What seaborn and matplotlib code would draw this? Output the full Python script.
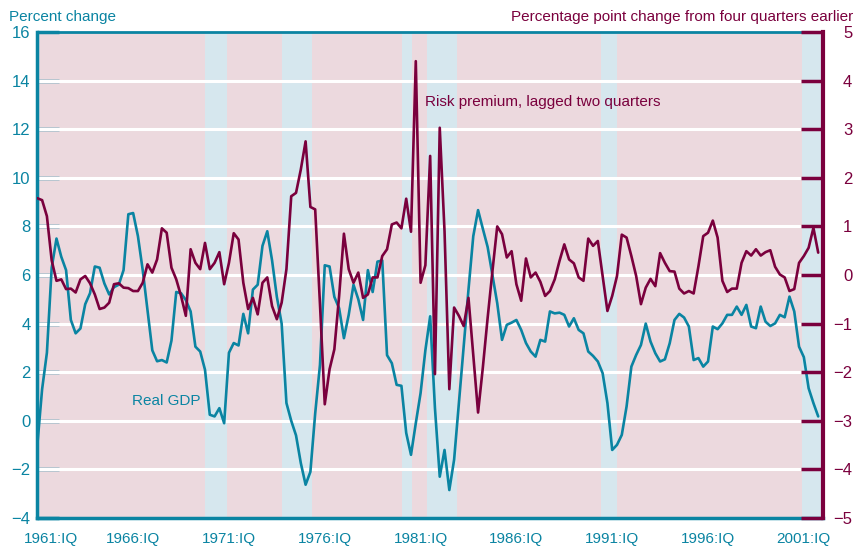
import matplotlib
matplotlib.use("Agg")
from matplotlib import pyplot as plt
from matplotlib import transforms
import seaborn as sns
import pandas as pd
import numpy as np

# quarterly, 1961:IQ .. 2001:IVQ
real_gdp = [
    -1.0, 1.3, 2.8, 6.3, 7.5, 6.75, 6.2, 4.15, 3.6, 3.8,
    4.8, 5.25, 6.35, 6.3, 5.65, 5.2, 5.5, 5.6, 6.2, 8.5,
    8.55, 7.6, 6.2, 4.55, 2.9, 2.45, 2.5, 2.4, 3.3, 5.3,
    5.25, 4.97, 4.5, 3.05, 2.85, 2.1, 0.25, 0.18, 0.52, -0.1,
    2.8, 3.2, 3.1, 4.4, 3.6, 5.4, 5.6, 7.2, 7.8, 6.6,
    5.1, 4.0, 0.73, 0.0, -0.6, -1.74, -2.63, -2.1, 0.3, 2.3,
    6.4, 6.35, 5.1, 4.63, 3.4, 4.36, 5.6, 5.0, 4.15, 6.2,
    5.3, 6.55, 6.6, 2.7, 2.37, 1.48, 1.44, -0.5, -1.4, -0.1,
    1.14, 2.9, 4.3, 0.52, -2.3, -1.2, -2.85, -1.6, 0.74, 3.07,
    5.4, 7.6, 8.67, 7.9, 7.15, 6.0, 4.84, 3.33, 3.95, 4.04,
    4.15, 3.74, 3.2, 2.85, 2.64, 3.33, 3.26, 4.5, 4.42, 4.45,
    4.36, 3.88, 4.22, 3.74, 3.6, 2.85, 2.67, 2.44, 1.96, 0.73,
    -1.2, -0.99, -0.58, 0.59, 2.23, 2.71, 3.12, 4.0, 3.26, 2.78,
    2.44, 2.53, 3.19, 4.15, 4.4, 4.25, 3.88, 2.5, 2.58, 2.23,
    2.44, 3.88, 3.77, 4.01, 4.36, 4.36, 4.7, 4.36, 4.77, 3.88,
    3.81, 4.7, 4.08, 3.9, 4.01, 4.36, 4.26, 5.11, 4.5, 3.05,
    2.62, 1.34, 0.73, 0.18,
]
risk_premium = [
    1.58, 1.54, 1.21, 0.3, -0.12, -0.09, -0.29, -0.28, -0.36, -0.09,
    -0.02, -0.17, -0.4, -0.7, -0.67, -0.57, -0.19, -0.17, -0.26, -0.27,
    -0.33, -0.33, -0.16, 0.22, 0.05, 0.32, 0.96, 0.87, 0.15, -0.09,
    -0.43, -0.84, 0.53, 0.25, 0.12, 0.66, 0.12, 0.25, 0.47, -0.19,
    0.25, 0.86, 0.73, -0.16, -0.7, -0.47, -0.81, -0.16, -0.05, -0.64,
    -0.91, -0.57, 0.12, 1.62, 1.69, 2.17, 2.75, 1.4, 1.35, -0.6,
    -2.66, -1.94, -1.53, -0.43, 0.85, 0.12, -0.16, 0.05, -0.47, -0.4,
    -0.05, -0.05, 0.39, 0.53, 1.04, 1.08, 0.96, 1.57, 0.89, 4.4,
    -0.16, 0.2, 2.45, -2.04, 3.03, 0.9, -2.35, -0.67, -0.84, -1.05,
    -0.47, -1.66, -2.83, -1.9, -0.88, 0.08, 1.0, 0.84, 0.36, 0.49,
    -0.19, -0.53, 0.34, -0.05, 0.05, -0.14, -0.43, -0.33, -0.09, 0.29,
    0.63, 0.32, 0.24, -0.05, -0.12, 0.75, 0.6, 0.7, -0.02, -0.74,
    -0.43, -0.02, 0.83, 0.77, 0.39, -0.02, -0.6, -0.26, -0.08, -0.23,
    0.45, 0.25, 0.08, 0.07, -0.28, -0.38, -0.33, -0.38, 0.18, 0.8,
    0.87, 1.12, 0.77, -0.12, -0.35, -0.28, -0.28, 0.25, 0.49, 0.4,
    0.53, 0.4, 0.47, 0.51, 0.17, 0.01, -0.05, -0.33, -0.29, 0.25,
    0.39, 0.56, 0.97, 0.46,
]
# recessions, in quarters since 1961:IQ
recession_start = [34.9, 51.0, 76.2, 81.4, 117.7, 159.7]
recession_end = [39.5, 57.4, 78.3, 87.7, 120.9, 164.0]
tick_quarters = [0, 20, 40, 60, 80, 100, 120, 140, 160]
tick_labels = ["1961:IQ", "1966:IQ", "1971:IQ", "1976:IQ", "1981:IQ",
               "1986:IQ", "1991:IQ", "1996:IQ", "2001:IQ"]

TEAL = "#0a84a2"
MAROON = "#7a003d"
PINK = "#ecd9de"
BLUE = "#d6e7ee"
FS = 11

df = pd.DataFrame({"quarter": np.arange(len(real_gdp)),
                   "gdp": real_gdp, "risk": risk_premium})

sns.set_theme(style="white")
plt.rcParams["font.family"] = ["Liberation Sans", "DejaVu Sans"]
plt.rcParams["axes.unicode_minus"] = True

fig = plt.figure(figsize=(8.54, 5.5), dpi=100)
ax = fig.add_axes([0.0437, 0.0582, 0.92, 0.8836])
ax.set_facecolor(PINK)
for s, e in zip(recession_start, recession_end):
    ax.axvspan(s, e, color=BLUE, lw=0, zorder=0)
for v in range(-2, 16, 2):
    ax.axhline(v, color="white", lw=2.2, zorder=1)

sns.lineplot(data=df, x="quarter", y="gdp", ax=ax, color=TEAL, lw=1.9, zorder=3)
ax.set_xlim(0, 164)
ax.set_ylim(-4, 16)
ax.set_yticks(range(-4, 17, 2))
ax.set_xticks(tick_quarters)
ax.set_xticklabels(tick_labels)
ax.set_xlabel("")
ax.set_ylabel("")

ax2 = ax.twinx()
sns.lineplot(data=df, x="quarter", y="risk", ax=ax2, color=MAROON, lw=1.9, zorder=4)
ax2.set_ylim(-5, 5)
ax2.set_yticks(range(-5, 6))
ax2.set_ylabel("")
ax2.set_xlim(0, 164)

ax.tick_params(axis="y", direction="in", length=16, width=2.5, color=TEAL,
               labelcolor=TEAL, labelsize=12, pad=5)
ax.tick_params(axis="x", direction="in", length=15, width=2.5, color=TEAL,
               labelcolor=TEAL, labelsize=FS, pad=10)
ax2.tick_params(axis="y", direction="in", length=16, width=2.5, color=MAROON,
                labelcolor=MAROON, labelsize=12, pad=21)
for lab in ax2.get_yticklabels():
    lab.set_ha("right")

first = ax.get_xticklabels()[0]
first.set_transform(first.get_transform() +
                    transforms.ScaledTranslation(0.14, 0, fig.dpi_scale_trans))

for sp in ["left", "bottom", "top"]:
    ax.spines[sp].set_color(TEAL)
ax.spines["left"].set_linewidth(2.5)
ax.spines["bottom"].set_linewidth(2.5)
ax.spines["top"].set_linewidth(2.0)
ax.spines["right"].set_visible(False)
for sp in ["left", "bottom", "top"]:
    ax2.spines[sp].set_visible(False)
ax2.spines["right"].set_color(MAROON)
ax2.spines["right"].set_linewidth(3)

fig.text(9 / 854, 1 - 17 / 550, "Percent change", color=TEAL, fontsize=FS,
         ha="left", va="center")
fig.text(853 / 854, 1 - 17 / 550, "Percentage point change from four quarters earlier",
         color=MAROON, fontsize=FS, ha="right", va="center")
ax.text(80.9, 13.1, "Risk premium, lagged two quarters", color=MAROON,
        fontsize=FS, ha="left", va="center", zorder=5)
ax.text(34.0, 0.8, "Real GDP", color=TEAL, fontsize=FS, ha="right",
        va="center", zorder=5)

fig.savefig("out.png", dpi=100)
